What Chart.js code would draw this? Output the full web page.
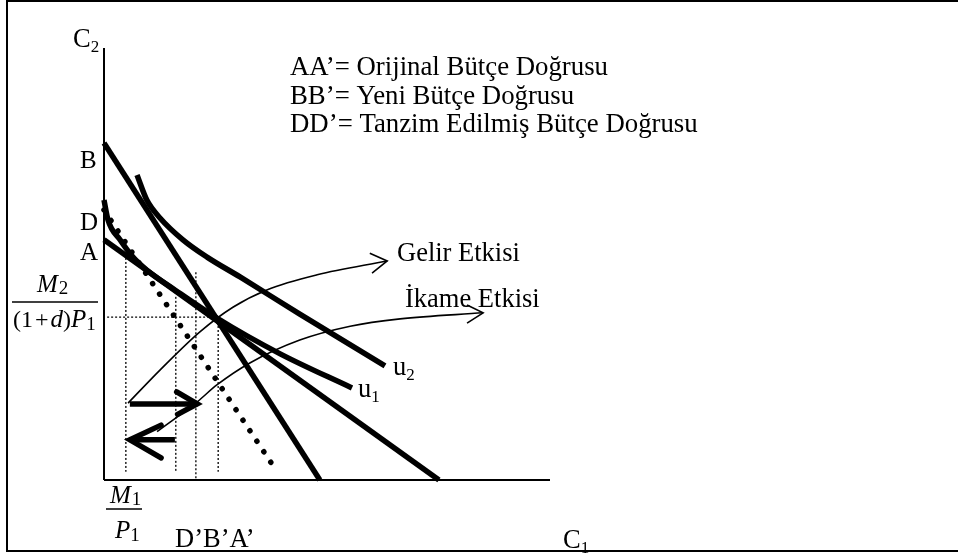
<!DOCTYPE html>
<html>
<head>
<meta charset="utf-8">
<script src="https://cdn.jsdelivr.net/npm/chart.js@4/dist/chart.umd.min.js"></script>
<style>
  html, body { margin: 0; padding: 0; background: #fff; }
  canvas { display: block; }
</style>
</head>
<body>
<canvas id="diagram" width="958" height="556"></canvas>
<script>
// values, axis units 0..100 on both axes
const axisX = [{x: 0, y: 0}, {x: 100, y: 0}];
const axisY = [{x: 0, y: 0}, {x: 0, y: 100}];

const budgetAA = [{x: 0, y: 55.6}, {x: 75.1, y: 0}];
const budgetBB = [{x: 0, y: 78.0}, {x: 48.4, y: 0}];
const budgetDD = [{x: 0, y: 62.5}, {x: 38.8, y: 1.9}];

const curveU1 = [
  {x: 0, y: 64.8}, {x: 0.9, y: 60.2}, {x: 3.6, y: 55.6}, {x: 6.5, y: 51.6},
  {x: 9.6, y: 48.6}, {x: 15.9, y: 44.0}, {x: 25.3, y: 37.5}, {x: 39.5, y: 29.2},
  {x: 55.6, y: 21.3}
];
const curveU2 = [
  {x: 7.4, y: 70.6}, {x: 9.6, y: 64.8}, {x: 12.6, y: 60.6}, {x: 17.7, y: 55.6},
  {x: 23.1, y: 51.6}, {x: 30.5, y: 47.0}, {x: 43.9, y: 38.4}, {x: 63.0, y: 26.4}
];

const guideLevel = [{x: 0.7, y: 37.7}, {x: 25.3, y: 37.7}];
const guideDrops = [
  [{x: 4.9, y: 51.4}, {x: 4.9, y: 1.9}],
  [{x: 16.1, y: 42.4}, {x: 16.1, y: 1.9}],
  [{x: 20.6, y: 48.1}, {x: 20.6, y: 0}],
  [{x: 25.6, y: 37.5}, {x: 25.6, y: 1.9}]
];

const incomeArc = [
  {x: 5.4, y: 17.8}, {x: 12.6, y: 25.5}, {x: 21.5, y: 34.3}, {x: 28.9, y: 40.0},
  {x: 36.5, y: 44.0}, {x: 47.8, y: 47.5}, {x: 63.5, y: 50.7}
];
const incomeHead = [{x: 59.6, y: 52.5}, {x: 63.5, y: 50.7}, {x: 60.1, y: 47.9}];

const substArc = [
  {x: 11.9, y: 11.2}, {x: 20.9, y: 18.1}, {x: 25.3, y: 22.0}, {x: 32.7, y: 27.1},
  {x: 43.9, y: 32.4}, {x: 55.2, y: 35.6}, {x: 66.4, y: 37.3}, {x: 85.0, y: 38.7}
];
const substHead = [{x: 81.4, y: 40.5}, {x: 85.0, y: 38.7}, {x: 81.4, y: 36.3}];

const rightShaft = [{x: 5.8, y: 17.6}, {x: 20.9, y: 17.6}];
const rightHead = [{x: 16.3, y: 20.4}, {x: 20.9, y: 17.6}, {x: 16.5, y: 15.2}];
const leftShaft = [{x: 5.8, y: 9.3}, {x: 15.9, y: 9.3}];
const leftHead = [{x: 12.8, y: 12.7}, {x: 5.8, y: 9.3}, {x: 12.8, y: 5.1}];

const legendLines = [
  'AA’= Orijinal Bütçe Doğrusu',
  'BB’= Yeni Bütçe Doğrusu',
  'DD’= Tanzim Edilmiş Bütçe Doğrusu'
];

function line(data, width, extra) {
  return Object.assign({
    data: data,
    showLine: true,
    borderColor: '#000',
    borderWidth: width,
    pointRadius: 0,
    fill: false,
    tension: 0,
    clip: false,
    borderCapStyle: 'butt'
  }, extra || {});
}

const serif = '"Liberation Serif", "Times New Roman", serif';

function runs(ctx, x, y, parts) {
  parts.forEach(p => {
    ctx.font = p[1];
    ctx.fillText(p[0], x, y + (p[2] || 0));
    x += ctx.measureText(p[0]).width + (p[3] || 0);
  });
}

const labelsPlugin = {
  id: 'labels',
  afterDraw(chart) {
    const ctx = chart.ctx;
    ctx.save();
    ctx.strokeStyle = '#000';
    ctx.lineWidth = 2;
    ctx.beginPath();
    ctx.moveTo(960, 1); ctx.lineTo(7, 1); ctx.lineTo(7, 551); ctx.lineTo(960, 551);
    ctx.stroke();

    ctx.fillStyle = '#000';
    ctx.textBaseline = 'alphabetic';
    const big = '26.5px ' + serif;
    const sub = '17px ' + serif;

    legendLines.forEach((t, i) => {
      ctx.font = '26.8px ' + serif;
      ctx.fillText(t, 290, 75 + i * 28.5);
    });

    runs(ctx, 73, 47, [['C', big], ['2', sub, 5]]);
    runs(ctx, 563, 548, [['C', big], ['1', sub, 5]]);
    ctx.font = '25px ' + serif;
    ctx.fillText('B', 80, 168);
    ctx.fillText('D', 80, 230);
    ctx.fillText('A', 80, 260);
    ctx.font = big;
    ctx.fillText('Gelir Etkisi', 397, 261);
    ctx.fillText('İkame Etkisi', 405, 307);
    ctx.fillText('D’B’A’', 175, 547);
    runs(ctx, 393, 375, [['u', big], ['2', sub, 5]]);
    runs(ctx, 358, 397, [['u', big], ['1', sub, 5]]);

    // fractions
    const it = 'italic 25px ' + serif;
    const up = '24px ' + serif;
    const sm = '19px ' + serif;
    runs(ctx, 37, 292, [['M', it, 0, 1], ['2', sm, 2]]);
    ctx.lineWidth = 1.5;
    ctx.beginPath(); ctx.moveTo(12, 302); ctx.lineTo(98, 302); ctx.stroke();
    runs(ctx, 13, 327, [['(1', up, 0, 2], ['+', up, 0, 2], ['d', it], [')', up], ['P', it], ['1', sm, 3]]);

    runs(ctx, 110, 503, [['M', it, 0, 1], ['1', sm, 2]]);
    ctx.beginPath(); ctx.moveTo(106, 509); ctx.lineTo(142, 509); ctx.stroke();
    runs(ctx, 115, 538, [['P', it], ['1', sm, 3]]);
    ctx.restore();
  }
};

const dotted = {borderDash: [2, 2]};
const thinArc = {tension: 0.4, cubicInterpolationMode: 'monotone'};

new Chart(document.getElementById('diagram'), {
  type: 'scatter',
  data: {
    datasets: [
      line(axisX, 2),
      line(axisY, 2),
      ...guideDrops.map(d => line(d, 1.3, dotted)),
      line(guideLevel, 1.3, dotted),
      line(budgetDD, 5.5, {borderDash: [0.1, 12.5], borderCapStyle: 'round'}),
      line(budgetAA, 5.5),
      line(budgetBB, 5.5),
      line(curveU1, 5.5, {cubicInterpolationMode: 'monotone'}),
      line(curveU2, 5.5, {cubicInterpolationMode: 'monotone'}),
      line(incomeArc, 1.6, thinArc),
      line(incomeHead, 1.6),
      line(substArc, 1.6, thinArc),
      line(substHead, 1.6),
      line(rightShaft, 5.5),
      line(rightHead, 5.5, {borderCapStyle: 'round'}),
      line(leftShaft, 5.5),
      line(leftHead, 5.5, {borderCapStyle: 'round'})
    ]
  },
  options: {
    responsive: false,
    animation: false,
    layout: { padding: { left: 104, right: 408, top: 48, bottom: 76 } },
    plugins: { legend: { display: false }, tooltip: { enabled: false } },
    scales: {
      x: { type: 'linear', min: 0, max: 100, display: false },
      y: { type: 'linear', min: 0, max: 100, display: false }
    }
  },
  plugins: [labelsPlugin]
});
</script>
</body>
</html>
